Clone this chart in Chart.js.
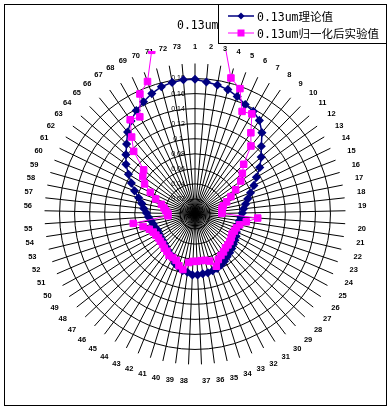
<!DOCTYPE html>
<html>
<head>
<meta charset="utf-8">
<script src="https://cdn.jsdelivr.net/npm/chart.js@4"></script>
<style>
  body { margin: 0; background: #fff; }
  #wrap { position: relative; width: 391px; height: 413px; }
  #frame { position: absolute; left: 4px; top: 4px; width: 381px; height: 400px; border: 1px solid #000; }
  canvas { position: absolute; left: 0; top: 0; }
  .txt { font-family: "DejaVu Sans Mono", "Noto Sans CJK SC", monospace; font-size: 11.5px; color: #000; }
  #title { position: absolute; left: 177px; top: 18px; }
  #legend { position: absolute; left: 218px; top: 4px; width: 167px; height: 38px; border: 1px solid #000; background: #fff; }
  .row { position: absolute; left: 9px; height: 14px; display: flex; align-items: center; white-space: nowrap; }
  .row svg { margin-right: 3px; }
</style>
</head>
<body>
<div id="wrap">
  <div id="frame"></div>
  <canvas id="chart" width="391" height="413"></canvas>
  <div id="title" class="txt">0.13um</div>
  <div id="legend">
    <div class="row txt" style="top:4px">
      <svg width="26" height="10"><line x1="0" y1="5" x2="26" y2="5" stroke="#000080" stroke-width="1.5"/><polygon points="13,1.5 16.5,5 13,8.5 9.5,5" fill="#000080"/></svg>
      <span>0.13um理论值</span>
    </div>
    <div class="row txt" style="top:21px">
      <svg width="26" height="10"><line x1="0" y1="5" x2="26" y2="5" stroke="#ff00ff" stroke-width="1"/><rect x="9.5" y="1.5" width="7" height="7" fill="#ff00ff"/></svg>
      <span>0.13um归一化后实验值</span>
    </div>
  </div>
</div>
<script>
const categories = ["1","2","3","4","5","6","7","8","9","10","11","12","13","14","15","16","17","18","19","20",
  "21","22","23","24","25","26","27","28","29","30","31","32","33","34","35","36","37","38","39","40",
  "41","42","43","44","45","46","47","48","49","50","51","52","53","54","55","56","57","58","59","60",
  "61","62","63","64","65","66","67","68","69","70","71","72","73"];

// theory curve
const theory = [0.179,0.176,0.174,0.171,0.166,0.160,0.157,0.151,0.140,0.126,
  0.116,0.106,0.095,0.087,0.079,0.073,0.0685,0.065,0.063,0.061,
  0.0595,0.059,0.0595,0.060,0.062,0.0635,0.065,0.067,0.069,0.071,
  0.074,0.076,0.078,0.079,0.080,0.080,0.081,0.081,0.078,0.077,
  0.074,0.071,0.0665,0.0625,0.060,0.058,0.0565,0.0555,0.055,0.0545,
  0.054,0.056,0.057,0.059,0.062,0.0645,0.0685,0.072,0.078,0.086,
  0.094,0.103,0.113,0.121,0.130,0.141,0.150,0.158,0.164,0.170,
  0.175,0.1775,0.179];

// normalised measurement (values near 0 deg run off the plot)
const measured = [0.25,0.25,0.23,0.187,0.177,0.150,0.153,0.131,0.117,0.0925,
  0.083,0.075,0.063,0.053,0.045,0.039,0.0365,0.036,0.0356,0.0835,
  0.069,0.061,0.058,0.057,0.056,0.0575,0.059,0.060,0.0605,0.063,
  0.065,0.068,0.075,0.0655,0.063,0.0625,0.063,0.063,0.065,0.0755,
  0.072,0.0665,0.065,0.065,0.062,0.061,0.059,0.0585,0.058,0.059,
  0.0605,0.064,0.071,0.083,0.036,0.036,0.039,0.042,0.0465,0.056,
  0.066,0.078,0.0855,0.090,0.1165,0.1325,0.152,0.1485,0.1755,0.187,
  0.225,0.25,0.25];

const rMin = 0, rMax = 0.2, rStep = 0.02;

// shift the radial tick labels left of the vertical axis, like Excel
const shiftTicks = {
  id: "shiftTicks",
  afterLayout(chart) {
    const s = chart.scales.r;
    if (s._shifted) return;
    const orig = s.drawLabels.bind(s);
    s.drawLabels = function () {
      chart.ctx.save();
      chart.ctx.translate(-17, 0);
      orig();
      chart.ctx.restore();
    };
    s._shifted = true;
  }
};

new Chart(document.getElementById("chart"), {
  type: "radar",
  data: {
    labels: categories,
    datasets: [
      {
        label: "0.13um理论值",
        data: theory,
        borderColor: "#000080",
        backgroundColor: "#000080",
        borderWidth: 1.5,
        pointStyle: "rectRot",
        pointRadius: 3.5,
        fill: false,
        order: 1
      },
      {
        label: "0.13um归一化后实验值",
        data: measured,
        borderColor: "#ff00ff",
        backgroundColor: "#ff00ff",
        borderWidth: 1,
        pointStyle: "rect",
        pointRadius: 4.6,
        fill: false,
        order: 0,
        clip: { top: -9, left: false, right: false, bottom: false }
      }
    ]
  },
  options: {
    responsive: false,
    animation: false,
    devicePixelRatio: 1,
    layout: { padding: { left: 24, right: 23, top: 42, bottom: 27 } },
    plugins: { legend: { display: false }, tooltip: { enabled: false } },
    elements: { line: { tension: 0 } },
    scales: {
      r: {
        min: rMin,
        max: rMax,
        ticks: {
          stepSize: rStep,
          showLabelBackdrop: false,
          color: "#000",
          font: { family: "Arial", size: 7 },
          callback: v => (v >= rMax - 1e-9 ? "" : String(+v.toFixed(2)))
        },
        grid: {
          circular: true,
          color: c => (c.tick && c.tick.value >= rMax - 1e-9 ? "rgba(0,0,0,0)" : "#000"),
          lineWidth: 1
        },
        angleLines: { color: "#000", lineWidth: 1 },
        pointLabels: {
          color: "#000",
          padding: 7,
          font: { family: "Arial", size: 7.5, weight: "bold" }
        }
      }
    }
  },
  plugins: [shiftTicks]
});
</script>
</body>
</html>
